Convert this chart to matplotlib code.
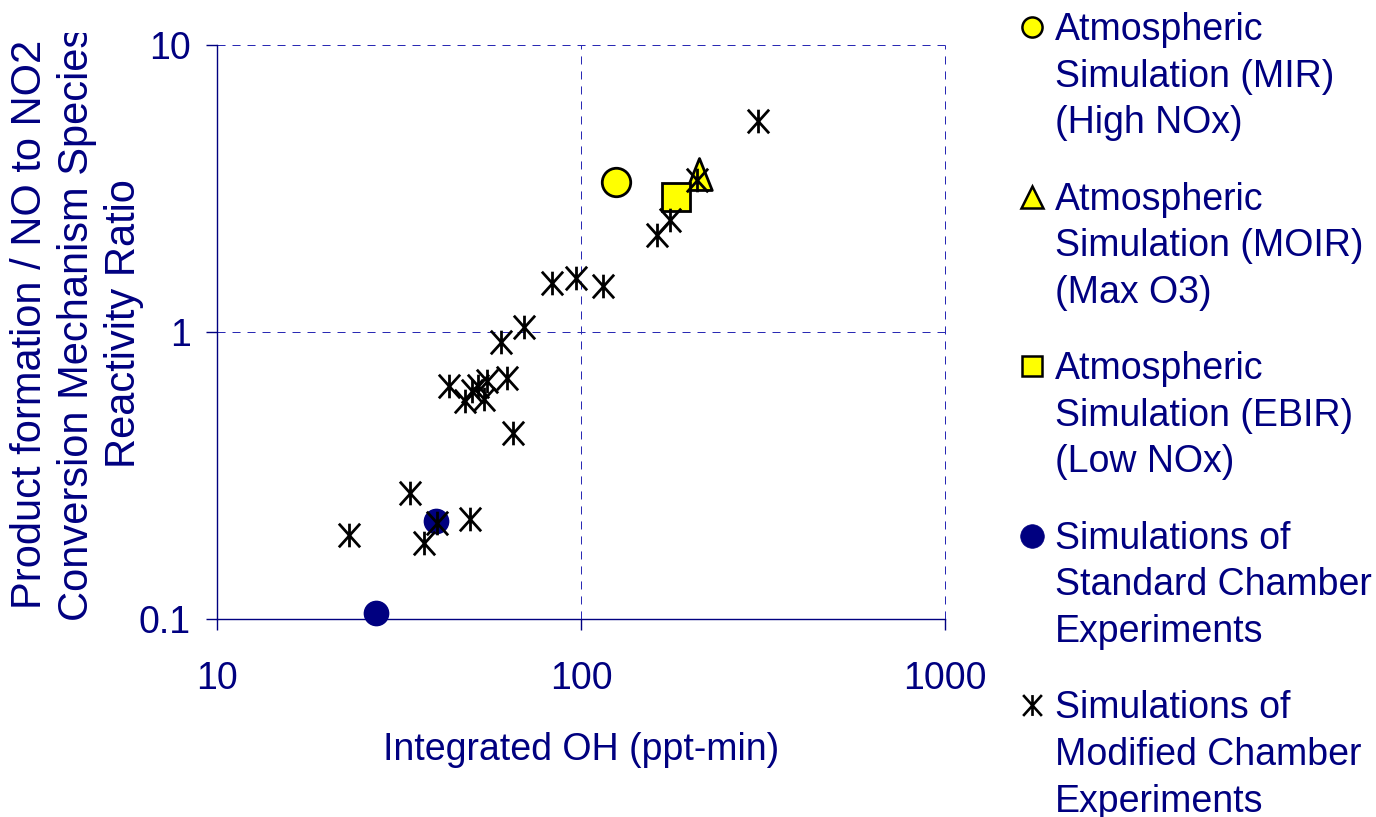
import matplotlib
matplotlib.use("Agg")
import matplotlib.pyplot as plt
from matplotlib.path import Path
from matplotlib.transforms import Bbox, TransformedBbox

# ---- data -------------------------------------------------------------
mir_x = [125.0]
mir_y = [3.35]
moir_x = [211.0]
moir_y = [3.56]
ebir_x = [182.0]
ebir_y = [2.97]
std_x = [40.0, 27.3]
std_y = [0.220, 0.1055]
mod_x = [69.9, 60.3, 43.4, 48.0, 50.2, 52.1, 55.2, 54.1, 62.6, 65.2, 33.9,
         49.5, 40.3, 37.0, 23.1, 83.1, 96.7, 114.7, 161.4, 175.6, 207.9, 306.9]
mod_y = [1.04, 0.927, 0.650, 0.576, 0.624, 0.650, 0.677, 0.586, 0.693, 0.445,
         0.275, 0.223, 0.217, 0.185, 0.197, 1.489, 1.542, 1.45, 2.18, 2.46,
         3.39, 5.45]

x_ticks = [10, 100, 1000]
x_ticklabels = ["10", "100", "1000"]
y_ticks = [0.1, 1, 10]
y_ticklabels = ["0.1", "1", "10"]

legend_labels = [
    "Atmospheric\nSimulation (MIR)\n(High NOx)",
    "Atmospheric\nSimulation (MOIR)\n(Max O3)",
    "Atmospheric\nSimulation (EBIR)\n(Low NOx)",
    "Simulations of\nStandard Chamber\nExperiments",
    "Simulations of\nModified Chamber\nExperiments",
]
ylabel_text = ("Product formation / NO to NO2\n"
               "Conversion Mechanism Species\n"
               "Reactivity Ratio")
xlabel_text = "Integrated OH (ppt-min)"

# ---- style ------------------------------------------------------------
NAVY = "#000080"
GRID = "#2a2ab4"
YELLOW = "#ffff00"
FONT = "Liberation Sans"
FS = 27

plt.rcParams["font.family"] = [FONT, "DejaVu Sans"]
plt.rcParams["lines.scale_dashes"] = False

# asterisk: vertical bar plus a cross
star = Path([(-0.9, -1), (0.9, 1), (-0.9, 1), (0.9, -1), (0, -1), (0, 1)],
            [Path.MOVETO, Path.LINETO, Path.MOVETO, Path.LINETO,
             Path.MOVETO, Path.LINETO])
# upright triangle, a little taller than wide
tri = Path([(0, 1), (-0.8, -1), (0.8, -1), (0, 1)],
           [Path.MOVETO, Path.LINETO, Path.LINETO, Path.CLOSEPOLY])

W, H = 1376, 817
fig = plt.figure(figsize=(W / 100, H / 100), dpi=100)
fig.patch.set_facecolor("white")

left, right, top, bottom = 217, 945, 45.3, 619.3
ax = fig.add_axes([left / W, 1 - bottom / H, (right - left) / W, (bottom - top) / H])
ax.set_xscale("log")
ax.set_yscale("log")
ax.set_xlim(10, 1000)
ax.set_ylim(0.1, 10)
ax.set_xticks(x_ticks)
ax.set_xticklabels(x_ticklabels)
ax.set_yticks(y_ticks)
ax.set_yticklabels(y_ticklabels)
ax.minorticks_off()
ax.tick_params(axis="both", direction="out", length=8, width=1.0, color=NAVY,
               labelcolor=NAVY, labelsize=FS)
ax.tick_params(axis="x", pad=22)
ax.tick_params(axis="y", pad=11)
for lab in ax.get_xticklabels() + ax.get_yticklabels():
    lab.set_fontfamily(FONT)
for side in ("top", "right"):
    ax.spines[side].set_visible(False)
for side in ("left", "bottom"):
    ax.spines[side].set_color(NAVY)
    ax.spines[side].set_linewidth(1.0)
    ax.spines[side].set_zorder(3)
ax.grid(True, which="major", color=GRID, linewidth=0.72, dashes=(5.8, 5.0))
for gl in ax.get_xgridlines() + ax.get_ygridlines():
    gl.set_clip_on(False)
    gl.set_snap(True)
ax.set_axisbelow(True)

ax.set_xlabel(xlabel_text, fontsize=FS, color=NAVY, labelpad=25, family=FONT)

# data series
ax.plot(mir_x, mir_y, ls="none", marker="o", ms=20.5, mfc=YELLOW, mec="black",
        mew=2.0, zorder=4)
ax.plot(moir_x, moir_y, ls="none", marker=tri, ms=23, mfc=YELLOW, mec="black",
        mew=2.0, zorder=4)
ax.plot(ebir_x, ebir_y, ls="none", marker="s", ms=20, mfc=YELLOW, mec="black",
        mew=2.0, zorder=4)
ax.plot(std_x, std_y, ls="none", marker="o", ms=17.5, mfc=NAVY, mec=NAVY,
        mew=1.0, zorder=4, clip_on=False)
ax.plot(mod_x, mod_y, ls="none", marker=star, ms=17, mfc="none", mec="black",
        mew=2.0, zorder=5)

# y axis title (three centred lines, clipped near the top edge)
ytxt = fig.text(77 / W, 1 - 324 / H, ylabel_text, rotation=90, ha="center",
                va="center", multialignment="center", fontsize=30,
                color=NAVY, linespacing=1.23, family=FONT)
ytxt.set_clip_box(TransformedBbox(Bbox.from_extents(0, 0, 1, 1 - 33 / H),
                                  fig.transFigure))
ytxt.set_clip_on(True)

# legend column drawn in pixel coordinates
lax = fig.add_axes([0, 0, 1, 1])
lax.set_xlim(0, W)
lax.set_ylim(H, 0)
lax.axis("off")
lax.patch.set_visible(False)

legend_styles = [
    dict(marker="o", ms=14.5, mfc=YELLOW, mec="black", mew=1.8),
    dict(marker="^", ms=16.5, mfc=YELLOW, mec="black", mew=1.8),
    dict(marker="s", ms=15, mfc=YELLOW, mec="black", mew=1.8),
    dict(marker="o", ms=17, mfc=NAVY, mec=NAVY, mew=0.5),
    dict(marker=star, ms=15, mfc="none", mec="black", mew=1.9),
]
entry_top, entry_step = 12.0, 169.6
marker_x, text_x = 1032, 1055
for k, (label, style) in enumerate(zip(legend_labels, legend_styles)):
    y0 = entry_top + k * entry_step
    lax.plot([marker_x], [y0 + 15], ls="none", **style)
    lax.text(text_x, y0, label, ha="left", va="top", fontsize=FS, color=NAVY,
             linespacing=1.38, family=FONT)

fig.savefig("out.png", dpi=100)
